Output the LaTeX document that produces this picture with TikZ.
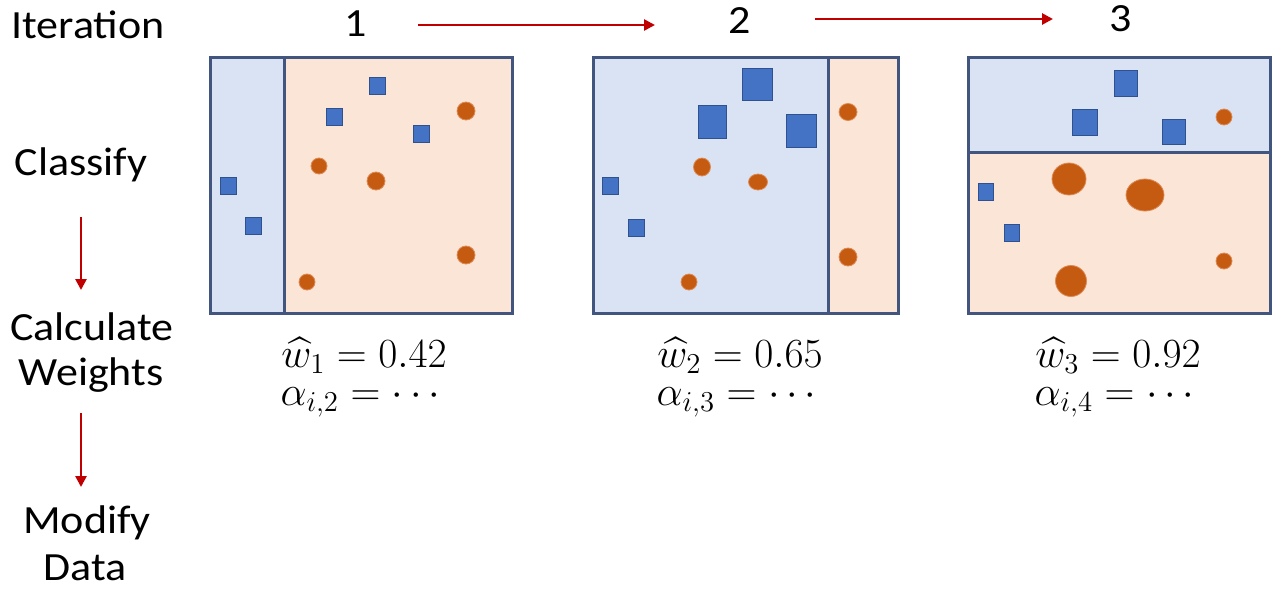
\documentclass[tikz,border=0pt]{standalone}
\usepackage{amsmath}
\usepackage{fontspec}
\setmainfont{Carlito}[FakeStretch=1.1]
\usetikzlibrary{arrows.meta,shapes.geometric}
\definecolor{paneblue}{HTML}{DAE3F3}
\definecolor{paneorange}{HTML}{FBE5D6}
\definecolor{framecol}{HTML}{42557E}
\definecolor{sqfill}{HTML}{4472C4}
\definecolor{sqedge}{HTML}{2F528F}
\definecolor{dotfill}{HTML}{C55A11}
\definecolor{dotedge}{HTML}{DD8A55}
\definecolor{arrred}{HTML}{C00000}
\begin{document}
\begin{tikzpicture}[x=0.5pt,y=-0.5pt,
  lbl/.style={font=\fontsize{20}{24}\selectfont, inner sep=0pt, anchor=base},
  frm/.style={draw=framecol, line width=1.5pt},
  sq/.style={rectangle, fill=sqfill, draw=sqedge, line width=0.5pt, inner sep=0pt},
  dot/.style={ellipse, fill=dotfill, draw=dotedge, line width=0.4pt, inner sep=0pt},
  flow/.style={draw=arrred, line width=1.3pt, -{Triangle[length=5.5pt,width=5.5pt]}},
  eq/.style={font=\fontsize{20.5}{19}\selectfont, inner sep=0pt, anchor=base, align=center}]
\useasboundingbox (0,0) rectangle (1272,594);

% left labels
\node[lbl] (iter) at (88,39) {Iteration};
\node[lbl] (classify) at (81,175) {Classify};
\node[lbl] (calc) at (92,340) {Calculate};
\node[lbl] (weights) at (91,385) {Weights};
\node[lbl] (modify) at (87,533) {Modify};
\node[lbl] (data) at (85,580) {Data};
\coordinate (va1) at (81,217); \coordinate (vb1) at (81,290);
\coordinate (va2) at (81,413); \coordinate (vb2) at (81,487);
\draw[flow] (va1) -- (vb1);
\draw[flow] (va2) -- (vb2);

% iteration numbers
\node[lbl] (n1) at (356,36) {1};
\node[lbl] (n2) at (740,33) {2};
\node[lbl] (n3) at (1121,32) {3};
\coordinate (ha1) at (418,25); \coordinate (hb1) at (655,25);
\coordinate (ha2) at (815,19); \coordinate (hb2) at (1053,19);
\draw[flow] (ha1) -- (hb1);
\draw[flow] (ha2) -- (hb2);

% ---------- panel 1
\fill[paneblue] (210,57) rectangle (284,313);
\fill[paneorange] (284,57) rectangle (512,313);
\draw[frm] (210,57) rectangle (512,313);
\draw[frm] (284,57) -- (284,313);
\node[sq, minimum width=8pt, minimum height=8.5pt] (p1s1) at (377,86) {};
\node[sq, minimum width=8pt, minimum height=8.5pt] (p1s2) at (334,117) {};
\node[sq, minimum width=8pt, minimum height=8.5pt] (p1s3) at (421,134) {};
\node[sq, minimum width=8pt, minimum height=8.5pt] (p1s4) at (228,186) {};
\node[sq, minimum width=8pt, minimum height=8.5pt] (p1s5) at (253,226) {};
\node[dot, minimum width=9pt, minimum height=9pt] (p1c1) at (466,111) {};
\node[dot, minimum width=8pt, minimum height=8pt] (p1c2) at (319,166) {};
\node[dot, minimum width=9pt, minimum height=9pt] (p1c3) at (376,181) {};
\node[dot, minimum width=9pt, minimum height=9pt] (p1c4) at (466,255) {};
\node[dot, minimum width=8pt, minimum height=8pt] (p1c5) at (307,282) {};

% ---------- panel 2
\fill[paneblue] (593,57) rectangle (828,313);
\fill[paneorange] (828,57) rectangle (898,313);
\draw[frm] (593,57) rectangle (898,313);
\draw[frm] (828,57) -- (828,313);
\node[sq, minimum width=15pt, minimum height=16pt] (p2s1) at (757,84) {};
\node[sq, minimum width=14pt, minimum height=16.5pt] (p2s2) at (712,122) {};
\node[sq, minimum width=15pt, minimum height=16.5pt] (p2s3) at (801,131) {};
\node[sq, minimum width=8pt, minimum height=8.5pt] (p2s4) at (610,186) {};
\node[sq, minimum width=8pt, minimum height=8.5pt] (p2s5) at (636,228) {};
\node[dot, minimum width=8.5pt, minimum height=9pt] (p2c1) at (702,167) {};
\node[dot, minimum width=9.5pt, minimum height=8pt] (p2c2) at (758,182) {};
\node[dot, minimum width=8pt, minimum height=8pt] (p2c3) at (689,282) {};
\node[dot, minimum width=9pt, minimum height=8.5pt] (p2c4) at (848,112) {};
\node[dot, minimum width=9pt, minimum height=9pt] (p2c5) at (848,257) {};

% ---------- panel 3
\fill[paneblue] (968,57) rectangle (1270,152);
\fill[paneorange] (968,152) rectangle (1270,313);
\draw[frm] (968,57) rectangle (1270,313);
\draw[frm] (968,152) -- (1270,152);
\node[sq, minimum width=11.5pt, minimum height=13pt] (p3s1) at (1126,83) {};
\node[sq, minimum width=12.5pt, minimum height=13pt] (p3s2) at (1085,122) {};
\node[sq, minimum width=11.5pt, minimum height=12.5pt] (p3s3) at (1174,132) {};
\node[sq, minimum width=7.5pt, minimum height=8.5pt] (p3s4) at (986,192) {};
\node[sq, minimum width=7.5pt, minimum height=8.5pt] (p3s5) at (1012,233) {};
\node[dot, minimum width=8pt, minimum height=8pt] (p3c1) at (1224,117) {};
\node[dot, minimum width=8pt, minimum height=8pt] (p3c2) at (1224,261) {};
\node[dot, minimum width=17pt, minimum height=16pt] (p3c3) at (1069,179) {};
\node[dot, minimum width=19pt, minimum height=16pt] (p3c4) at (1145,195) {};
\node[dot, minimum width=15.5pt, minimum height=15.5pt] (p3c5) at (1071,281) {};

% ---------- formulas
\node[eq] (f1) at (364,405) {$\widehat{w}_1 = 0.42$\\$\alpha_{i,2} = \cdots$};
\node[eq] (f2) at (740,405) {$\widehat{w}_2 = 0.65$\\$\alpha_{i,3} = \cdots$};
\node[eq] (f3) at (1118,405) {$\widehat{w}_3 = 0.92$\\$\alpha_{i,4} = \cdots$};
\end{tikzpicture}
\end{document}
